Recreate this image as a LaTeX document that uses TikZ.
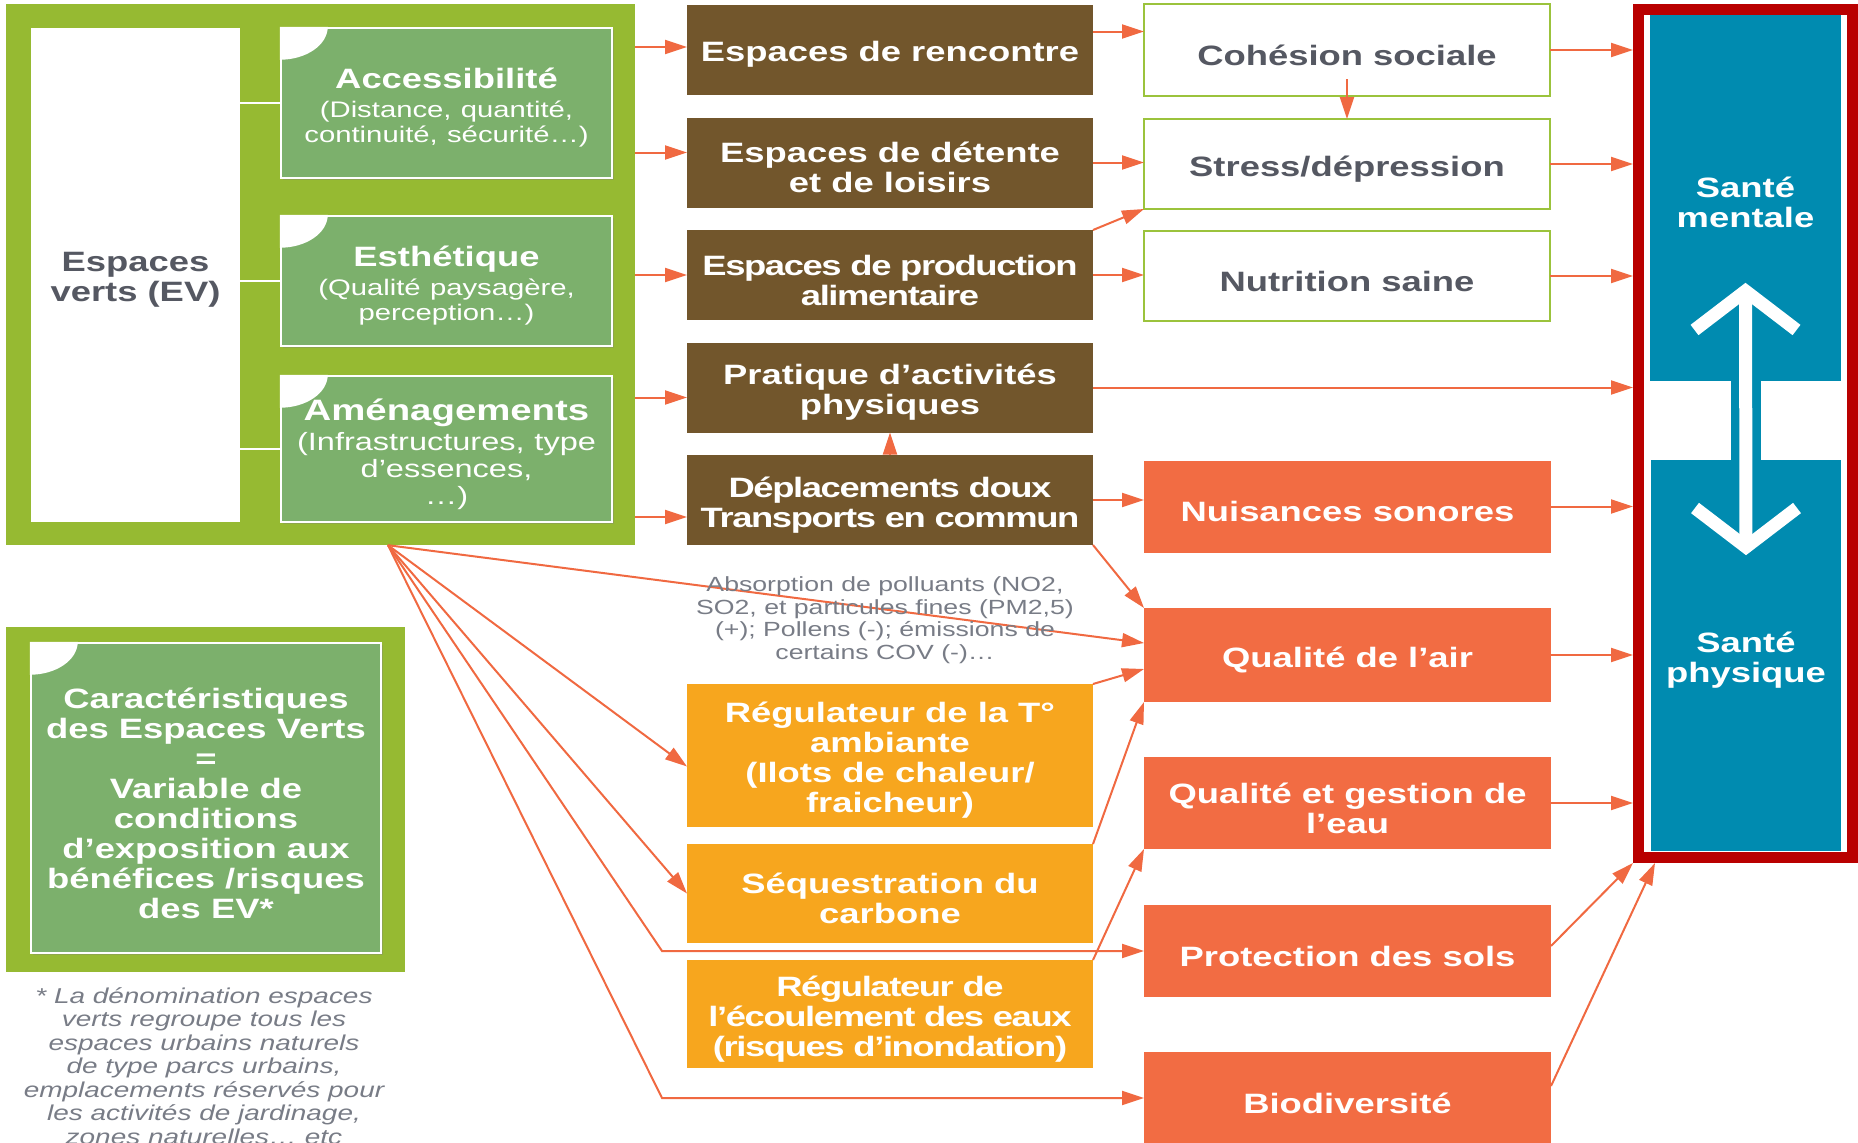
\documentclass[tikz,border=0pt]{standalone}
\usepackage{fontspec}
\setmainfont{Liberation Sans}[FakeStretch=1.3]
\usetikzlibrary{arrows.meta,calc,shadows}
\definecolor{lime}{RGB}{150,186,50}
\definecolor{greenc}{RGB}{124,176,108}
\definecolor{brownc}{RGB}{114,86,44}
\definecolor{grayc}{RGB}{85,88,98}
\definecolor{lightgray}{RGB}{120,124,134}
\definecolor{outlinec}{RGB}{155,195,60}
\definecolor{orangec}{RGB}{242,108,67}
\definecolor{yellowc}{RGB}{247,166,30}
\definecolor{bluec}{RGB}{0,139,176}
\definecolor{redc}{RGB}{185,0,0}
\definecolor{arrowc}{RGB}{240,105,65}
\newcommand\subtxt{\fontsize{22.5}{25}\selectfont\mdseries}
\begin{document}
\begin{tikzpicture}[x=1pt,y=-1pt,
  arr/.style={draw=arrowc,line width=2pt,-{Triangle[length=22pt,width=14pt]}},
  boldtxt/.style={font=\fontsize{28}{30}\selectfont\bfseries,align=center},
  lbl/.style={boldtxt,text=white,inner sep=0pt,yshift=-5pt},
  glbl/.style={lbl,text=grayc},
  tight/.style={font=\fontsize{28}{30}\selectfont\bfseries\addfontfeatures{LetterSpace=-5}},
  plainbox/.style={inner sep=0pt,outer sep=0pt},
  brownbox/.style={plainbox,fill=brownc,minimum width=406pt,minimum height=90pt},
  outlinebox/.style={plainbox,fill=white,draw=outlinec,line width=2.5pt,minimum width=406pt,minimum height=90pt},
  orangebox/.style={plainbox,fill=orangec,minimum width=407pt,minimum height=92pt},
  yellowbox/.style={plainbox,fill=yellowc,minimum width=406pt},
  bluebox/.style={plainbox,fill=bluec},
  greenbox/.style={fill=greenc,draw=white,line width=2.5pt,inner sep=0pt,minimum width=331pt,
    drop shadow={shadow xshift=2pt,shadow yshift=-2pt,opacity=.35}},
  dbl/.style={white,line width=13pt,line join=miter}]
\useasboundingbox (0,0) rectangle (1858,1143);

% espaces verts
\node[fill=lime,minimum width=629pt,minimum height=541pt,inner sep=0pt] (frame) at (320.5,274.5) {};
\node[plainbox,fill=white,minimum width=209pt,minimum height=494pt,
  label={[glbl]center:{Espaces\\verts (EV)}}] (ev) at (135.5,275) {};
\node[greenbox,minimum height=150pt,
  label={[lbl,text width=325pt]center:{Accessibilité\endgraf\vspace{4pt}{\subtxt (Distance, quantité,\\continuité, sécurité…)\endgraf}}}] (access) at (446.5,103) {};
\node[greenbox,minimum height=130pt,
  label={[lbl,text width=325pt]center:{Esthétique\endgraf\vspace{4pt}{\subtxt (Qualité  paysagère,\\perception…)\endgraf}}}] (esth) at (446.5,281) {};
\node[greenbox,minimum height=146pt,
  label={[lbl,text width=325pt,font=\fontsize{29.5}{31}\selectfont\bfseries]center:{Aménagements\endgraf\vspace{3pt}{\fontsize{25}{27}\selectfont\mdseries (Infrastructures, type\\d’essences,\\…)\endgraf}}}] (amen) at (446.5,449) {};

\node[fill=lime,minimum width=399pt,minimum height=345pt,inner sep=0pt] (carfr) at (205.5,799.5) {};
\node[greenbox,minimum width=350pt,minimum height=310pt,
  label={[lbl]center:{Caractéristiques\\des Espaces Verts\\=\\Variable de\\conditions\\d’exposition aux\\bénéfices /risques\\des EV*}}] (carin) at (206,798) {};
\foreach \b in {access,esth,amen,carin}
  \fill[white] (\b.north west) -- ++(48,0) arc[start angle=0,end angle=90,x radius=48,y radius=33] -- cycle;
\foreach \b in {access,esth,amen}
  \draw[white,line width=2pt] (ev.east |- \b.west) -- (\b.west);

\node[anchor=north,align=center,text=lightgray,inner sep=0pt,font=\fontsize{21.5}{23.5}\selectfont\itshape] (note) at (204,987)
  {* La dénomination espaces\\verts regroupe tous les\\espaces urbains naturels\\de type parcs urbains,\\emplacements réservés pour\\les activités de jardinage,\\zones naturelles… etc};

% usages
\node[brownbox,label={[lbl]center:Espaces de rencontre}] (ren) at (890,49.5) {};
\node[brownbox,label={[lbl]center:{Espaces de détente\\et de loisirs}}] (det) at (890,162.5) {};
\node[brownbox,label={[lbl,tight]center:{Espaces de production\\alimentaire}}] (prod) at (890,275) {};
\node[brownbox,label={[lbl]center:{Pratique d’activités\\physiques}}] (prat) at (890,387.5) {};
\node[brownbox,label={[lbl,tight]center:{Déplacements doux\\Transports en commun}}] (dep) at (890,500) {};
\node[yellowbox,minimum height=143pt,
  label={[lbl]center:{Régulateur de la T°\\ambiante\\(Ilots de chaleur/\\fraicheur)}}] (regt) at (890,755.5) {};
\node[yellowbox,minimum height=99pt,label={[lbl]center:{Séquestration du\\carbone}}] (seq) at (890,893.5) {};
\node[yellowbox,minimum height=108pt,
  label={[lbl,tight]center:{Régulateur de\\l’écoulement des eaux\\(risques d’inondation)}}] (ecou) at (890,1014) {};

% effets
\node[outlinebox,minimum height=92pt,label={[glbl]center:Cohésion sociale}] (coh) at (1347,50) {};
\node[outlinebox,label={[glbl]center:Stress/dépression}] (stress) at (1347,164) {};
\node[outlinebox,label={[glbl]center:Nutrition saine}] (nutri) at (1347,276) {};
\node[orangebox,label={[lbl]center:Nuisances sonores}] (nuis) at (1347.5,506.5) {};
\node[orangebox,minimum height=94pt,label={[lbl]center:Qualité de l’air}] (air) at (1347.5,655) {};
\node[orangebox,label={[lbl]center:{Qualité et gestion de\\l’eau}}] (eau) at (1347.5,803) {};
\node[orangebox,label={[lbl]center:Protection des sols}] (prot) at (1347.5,951) {};
\node[orangebox,label={[lbl]center:Biodiversité}] (bio) at (1347.5,1098) {};

% sante
\node[bluebox,minimum width=191pt,minimum height=367pt,label={[lbl]center:{Santé\\mentale}}] (mentale) at (1745.5,197.5) {};
\node[bluebox,minimum width=190pt,minimum height=391pt,label={[lbl]center:{Santé\\physique}}] (physique) at (1746,655.5) {};
\fill[bluec] ([xshift=-15pt]mentale.south) rectangle ([xshift=15pt]physique.north);
\coordinate (tipA) at ([yshift=90pt]mentale.south);
\coordinate (tipB) at ([yshift=-87pt]physique.north);
\draw[dbl] (tipA) -- (tipB);
\draw[dbl] (tipA) ++(-51,39) -- (tipA) -- ++(51,39);
\draw[dbl] (tipB) ++(-51,-39) -- (tipB) -- ++(51,-39);
\node[draw=redc,line width=11pt,minimum width=214pt,minimum height=848pt,inner sep=0pt] (sante) at (1745.5,433.5) {};

% connecteurs
\foreach \n/\dy in {ren/2.5,det/10,prod/0,prat/-10,dep/-17} {
  \path ([yshift=\dy pt]\n.west) coordinate (t);
  \draw[arr] (frame.east |- t) -- (t);
}
\draw[arr] ([yshift=18pt]ren.east) -- ([yshift=18.5pt]coh.west);
\draw[arr] (det.east) -- (stress.west |- det.east);
\draw[arr] (prod.east) -- (nutri.west |- prod.east);
\draw[arr] (dep.east) -- (nuis.west |- dep.east);
\draw[arr] (prat.east) -- (sante.west |- prat.east);
\draw[arr] (prod.north east) -- (stress.south west);
\draw[arr] (dep.south east) -- (air.north west);
\draw[arr] (dep.north) -- (prat.south);
\draw[arr] ([yshift=17pt]coh.south) -- (stress.north);
\foreach \n in {coh,stress,nutri,nuis,air,eau}
  \draw[arr] (\n.east) -- (sante.west |- \n.east);
\draw[arr] (regt.north east) -- ([yshift=-14pt]air.west);
\draw[arr] (seq.north east) -- (air.south west);
\draw[arr] (ecou.north east) -- (eau.south west);
\draw[arr] ([yshift=5pt]prot.east) -- (sante.south west);
\draw[arr] ([yshift=12pt]bio.east) -- ([xshift=22pt]sante.south west);

\coordinate (fan) at ([xshift=67.5pt]frame.south);
\coordinate (elbow) at (662,0);
\draw[arr] (fan) -- ([yshift=12pt]air.west);
\draw[arr] (fan) -- ([yshift=-11pt]regt.west);
\draw[arr] (fan) -- (seq.west);
\draw[arr] (fan) -- (elbow |- prot.west) -- (prot.west);
\draw[arr] (fan) -- (elbow |- bio.west) -- (bio.west);

\node[align=center,text=lightgray,inner sep=0pt,font=\fontsize{20.5}{22.5}\selectfont] (abso) at (885,620)
  {Absorption de polluants (NO2,\\SO2, et particules fines (PM2,5)\\(+); Pollens (-); émissions de\\certains COV (-)…};
\end{tikzpicture}
\end{document}
